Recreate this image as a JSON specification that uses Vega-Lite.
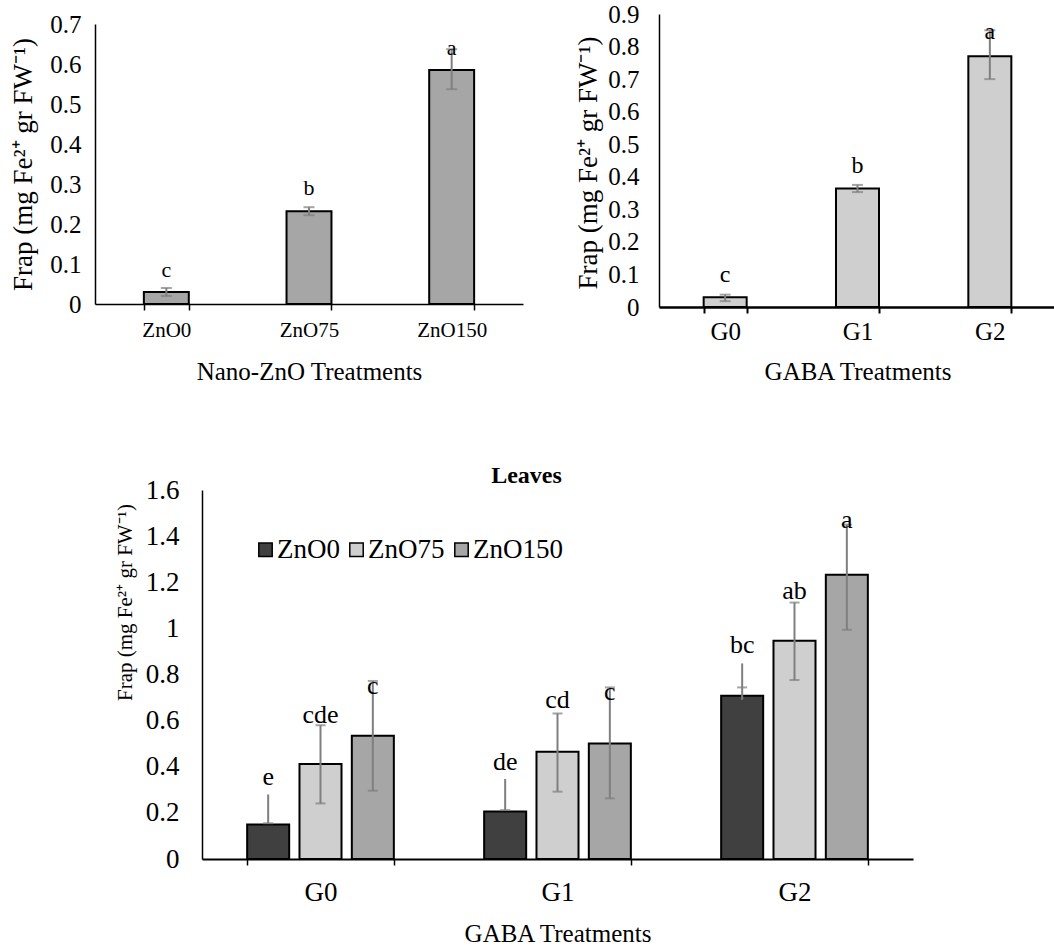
{
  "$schema": "https://vega.github.io/schema/vega-lite/v6.json",
  "padding": {"left": 9, "top": 2, "right": 0, "bottom": 0},
  "background": "white",
  "config": {
    "font": "Liberation Serif",
    "view": {"stroke": null},
    "text": {"font": "Liberation Serif"},
    "axis": {"grid": false, "domainColor": "black", "labelColor": "black", "titleColor": "black", "tickColor": "black", "titleFontWeight": "normal", "labelFont": "Liberation Serif", "titleFont": "Liberation Serif", "labelOverlap": false},
    "legend": {"labelFont": "Liberation Serif", "labelColor": "black"},
    "title": {"font": "Liberation Serif"}
  },
  "datasets": {
    "zno": [
      {"trt": "ZnO0", "frap": 0.03, "lo": 0.02, "hi": 0.04, "letter": "c", "ly": 0.085},
      {"trt": "ZnO75", "frap": 0.232, "lo": 0.222, "hi": 0.242, "letter": "b", "ly": 0.29},
      {"trt": "ZnO150", "frap": 0.585, "lo": 0.537, "hi": 0.637, "letter": "a", "ly": 0.64}
    ],
    "gaba": [
      {"trt": "G0", "frap": 0.03, "lo": 0.018, "hi": 0.038, "letter": "c", "ly": 0.099},
      {"trt": "G1", "frap": 0.364, "lo": 0.353, "hi": 0.375, "letter": "b", "ly": 0.433},
      {"trt": "G2", "frap": 0.77, "lo": 0.7, "hi": 0.85, "letter": "a", "ly": 0.845}
    ],
    "leaves": [
      {"g": "G0", "z": "ZnO0", "frap": 0.15, "lo": 0.155, "hi": 0.28, "capLo": 0.155, "capHi": null, "letter": "e", "ly": 0.354},
      {"g": "G0", "z": "ZnO75", "frap": 0.412, "lo": 0.241, "hi": 0.58, "capLo": 0.241, "capHi": 0.58, "letter": "cde", "ly": 0.624},
      {"g": "G0", "z": "ZnO150", "frap": 0.534, "lo": 0.296, "hi": 0.772, "capLo": 0.296, "capHi": 0.772, "letter": "c", "ly": 0.751},
      {"g": "G1", "z": "ZnO0", "frap": 0.206, "lo": 0.212, "hi": 0.347, "capLo": 0.212, "capHi": null, "letter": "de", "ly": 0.422},
      {"g": "G1", "z": "ZnO75", "frap": 0.465, "lo": 0.292, "hi": 0.631, "capLo": 0.292, "capHi": 0.631, "letter": "cd", "ly": 0.689},
      {"g": "G1", "z": "ZnO150", "frap": 0.501, "lo": 0.263, "hi": 0.744, "capLo": 0.263, "capHi": 0.744, "letter": "c", "ly": 0.726},
      {"g": "G2", "z": "ZnO0", "frap": 0.708, "lo": 0.69, "hi": 0.848, "capLo": 0.744, "capHi": null, "letter": "bc", "ly": 0.928},
      {"g": "G2", "z": "ZnO75", "frap": 0.946, "lo": 0.776, "hi": 1.112, "capLo": 0.776, "capHi": 1.112, "letter": "ab", "ly": 1.163},
      {"g": "G2", "z": "ZnO150", "frap": 1.233, "lo": 0.994, "hi": 1.45, "capLo": 0.994, "capHi": 1.45, "letter": "a", "ly": 1.469}
    ]
  },
  "vconcat": [
    {
      "hconcat": [
        {
          "width": 428, "height": 290,
          "data": {"name": "zno"},
          "encoding": {
            "x": {"field": "trt", "type": "nominal", "sort": null,
              "scale": {"paddingInner": 0.685, "paddingOuter": 0.3425},
              "axis": {"title": "Nano-ZnO Treatments", "labelAngle": 0, "tickBand": "extent", "tickSize": 6, "tickWidth": 1.5, "domainWidth": 1.5, "labelFont": "Liberation Serif", "titleFont": "Liberation Serif", "labelFontSize": 21, "labelPadding": 9, "titleFontSize": 25, "titlePadding": 19}}
          },
          "layer": [
            {"mark": {"type": "bar", "fill": "#a6a6a6", "stroke": "black", "strokeWidth": 2},
             "encoding": {"y": {"field": "frap", "type": "quantitative", "scale": {"domain": [0, 0.7], "range": [290, 10]},
               "axis": {"title": "Frap (mg Fe²⁺ gr FW⁻¹)", "values": [0, 0.1, 0.2, 0.3, 0.4, 0.5, 0.6, 0.7], "format": "~g", "labelOverlap": false, "labelSeparation": -12, "ticks": false, "tickSize": 0, "domainWidth": 1.5, "labelFont": "Liberation Serif", "titleFont": "Liberation Serif", "labelFontSize": 25, "labelPadding": 14, "titleFontSize": 27, "titleX": -72, "titleY": 150, "titleBaseline": "middle"}}}},
            {"mark": {"type": "rule", "color": "#7f7f7f", "strokeWidth": 2},
             "encoding": {"y": {"field": "lo", "type": "quantitative"}, "y2": {"field": "hi"}}},
            {"transform": [{"fold": ["lo", "hi"], "as": ["k", "v"]}],
             "mark": {"type": "tick", "color": "#7f7f7f", "thickness": 2, "size": 11, "orient": "horizontal"},
             "encoding": {"y": {"field": "v", "type": "quantitative"}}},
            {"mark": {"type": "text", "font": "Liberation Serif", "fontSize": 22, "baseline": "middle", "color": "black"},
             "encoding": {"y": {"field": "ly", "type": "quantitative"}, "text": {"field": "letter"}}}
          ]
        },
        {
          "width": 397, "height": 293,
          "data": {"name": "gaba"},
          "encoding": {
            "x": {"field": "trt", "type": "nominal", "sort": null,
              "scale": {"paddingInner": 0.675, "paddingOuter": 0.3375},
              "axis": {"title": "GABA Treatments", "labelAngle": 0, "tickBand": "extent", "tickSize": 6, "tickWidth": 2, "domainWidth": 2.5, "labelFont": "Liberation Serif", "titleFont": "Liberation Serif", "labelFontSize": 25, "labelPadding": 6, "titleFontSize": 25, "titlePadding": 15}}
          },
          "layer": [
            {"mark": {"type": "bar", "fill": "#cfcfcf", "stroke": "black", "strokeWidth": 2},
             "encoding": {"y": {"field": "frap", "type": "quantitative", "scale": {"domain": [0, 0.9], "nice": false},
               "axis": {"title": "Frap (mg Fe²⁺ gr FW⁻¹)", "values": [0, 0.1, 0.2, 0.3, 0.4, 0.5, 0.6, 0.7, 0.8, 0.9], "tickCount": 10, "format": "~g", "labelOverlap": false, "labelBound": false, "labelSeparation": -12, "ticks": false, "tickSize": 0, "domainWidth": 1.5, "labelFont": "Liberation Serif", "titleFont": "Liberation Serif", "labelFontSize": 25, "labelPadding": 20, "titleFontSize": 27, "titleX": -71, "titleY": 148.5, "titleBaseline": "middle"}}}},
            {"mark": {"type": "rule", "color": "#7f7f7f", "strokeWidth": 2},
             "encoding": {"y": {"field": "lo", "type": "quantitative"}, "y2": {"field": "hi"}}},
            {"transform": [{"fold": ["lo", "hi"], "as": ["k", "v"]}],
             "mark": {"type": "tick", "color": "#7f7f7f", "thickness": 2, "size": 11, "orient": "horizontal"},
             "encoding": {"y": {"field": "v", "type": "quantitative"}}},
            {"mark": {"type": "text", "font": "Liberation Serif", "fontSize": 24, "baseline": "middle", "color": "black"},
             "encoding": {"y": {"field": "ly", "type": "quantitative"}, "text": {"field": "letter"}}}
          ]
        }
      ],
      "spacing": 51
    },
    {
      "hconcat": [
        {"width": 18, "height": 369, "data": {"values": [{}]}, "mark": {"type": "text", "text": ""}, "encoding": {}},
        {
          "width": 711, "height": 369,
          "title": {"text": "Leaves", "fontWeight": "bold", "fontSize": 24, "font": "Liberation Serif", "color": "black", "anchor": "middle", "dx": -31, "offset": -12},
          "data": {"name": "leaves"},
          "encoding": {
            "x": {"field": "g", "type": "nominal", "sort": null,
              "scale": {"paddingInner": 0.381, "paddingOuter": 0.1905},
              "axis": {"title": "GABA Treatments", "labelAngle": 0, "tickBand": "extent", "tickSize": 6, "tickWidth": 1.5, "domainWidth": 2, "labelFont": "Liberation Serif", "titleFont": "Liberation Serif", "labelFontSize": 27, "labelPadding": 14, "titleFontSize": 25, "titlePadding": 16}},
            "xOffset": {"field": "z", "type": "nominal", "sort": null, "scale": {"paddingInner": 0.197, "paddingOuter": 0}}
          },
          "layer": [
            {"mark": {"type": "bar", "stroke": "black", "strokeWidth": 2},
             "encoding": {
               "y": {"field": "frap", "type": "quantitative", "scale": {"domain": [0, 1.6]},
                 "axis": {"title": "Frap (mg Fe²⁺ gr FW⁻¹)", "values": [0, 0.2, 0.4, 0.6, 0.8, 1, 1.2, 1.4, 1.6], "format": "~g", "labelOverlap": false, "labelSeparation": -12, "ticks": false, "tickSize": 0, "domainWidth": 1.5, "labelFont": "Liberation Serif", "titleFont": "Liberation Serif", "labelFontSize": 27, "labelPadding": 23, "titleFontSize": 21, "titleX": -77, "titleY": 112, "titleBaseline": "middle"}},
               "fill": {"field": "z", "type": "nominal", "sort": null,
                 "scale": {"domain": ["ZnO0", "ZnO75", "ZnO150"], "range": ["#404040", "#cfcfcf", "#a6a6a6"]},
                 "legend": {"orient": "none", "legendX": 157, "legendY": 522, "direction": "horizontal", "title": null, "symbolType": "square", "symbolSize": 180, "symbolStrokeColor": "black", "symbolStrokeWidth": 1.5, "symbolOpacity": 1, "labelFont": "Liberation Serif", "labelFontSize": 27, "labelOffset": -2, "columnPadding": 3}}
             }},
            {"mark": {"type": "rule", "color": "#7f7f7f", "strokeWidth": 2},
             "encoding": {"y": {"field": "lo", "type": "quantitative"}, "y2": {"field": "hi"}}},
            {"transform": [{"fold": ["capLo", "capHi"], "as": ["k", "v"]}, {"filter": "isValid(datum.v)"}],
             "mark": {"type": "tick", "color": "#7f7f7f", "thickness": 2, "size": 10, "orient": "horizontal"},
             "encoding": {"y": {"field": "v", "type": "quantitative"}}},
            {"mark": {"type": "text", "font": "Liberation Serif", "fontSize": 26, "baseline": "middle", "color": "black"},
             "encoding": {"y": {"field": "ly", "type": "quantitative"}, "text": {"field": "letter"}}}
          ]
        }
      ],
      "spacing": 0
    }
  ],
  "spacing": 80
}
